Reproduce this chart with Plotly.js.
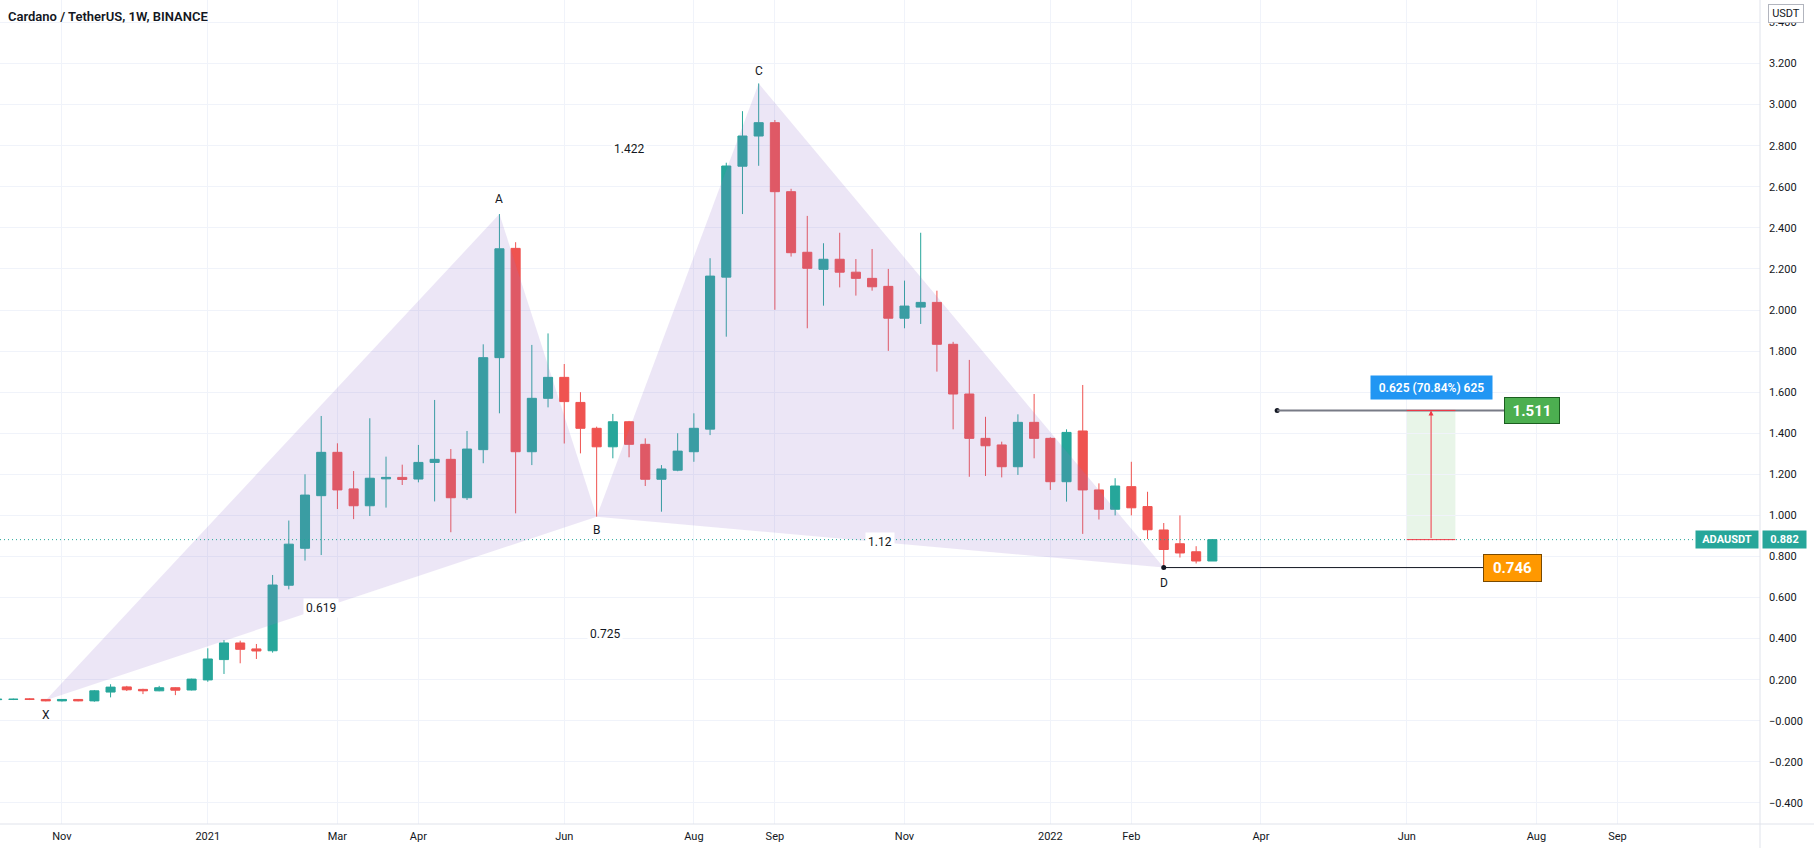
<!DOCTYPE html>
<html>
<head>
<meta charset="utf-8">
<script src="https://cdn.plot.ly/plotly-3.0.1.min.js"></script>
<style>html,body{margin:0;padding:0;background:#fff;}#chart{width:1814px;height:848px;}</style>
</head>
<body>
<div id="chart"></div>
<script>
// ---- data (weekly candles, first week 2020-10-05) ----
const firstWeek = '2020-10-05';
const opens = [0.103,0.104,0.107,0.104,0.097,0.104,0.097,0.140,0.165,0.153,0.146,0.161,0.150,
  0.199,0.298,0.379,0.350,0.341,0.660,0.840,1.096,1.307,1.129,1.047,1.178,1.185,1.177,1.258,1.273,1.086,1.320,1.768,2.300,1.310,1.570,1.672,1.550,1.424,1.334,1.456,1.346,1.176,1.220,1.310,1.420,2.160,2.700,2.847,2.912,2.576,2.281,2.198,2.247,2.184,2.154,2.115,1.960,2.014,2.037,1.833,1.591,1.375,1.343,1.237,1.453,1.375,1.164,1.411,1.124,1.030,1.140,1.043,0.929,0.862,0.823,0.778];
const highs = [0.108,0.108,0.110,0.106,0.106,0.106,0.150,0.178,0.170,0.156,0.170,0.163,0.205,
  0.353,0.393,0.390,0.374,0.710,0.975,1.200,1.484,1.351,1.216,1.473,1.286,1.247,1.343,1.562,1.323,1.411,1.833,2.467,2.330,1.830,1.886,1.737,1.600,1.432,1.494,1.460,1.375,1.245,1.400,1.497,2.252,2.717,2.968,3.103,2.925,2.590,2.458,2.325,2.376,2.248,2.297,2.200,2.143,2.376,2.094,1.845,1.757,1.480,1.359,1.492,1.591,1.380,1.419,1.635,1.156,1.181,1.261,1.115,0.963,1.000,0.850,0.885];
const lows = [0.100,0.101,0.101,0.095,0.094,0.095,0.093,0.114,0.145,0.130,0.144,0.125,0.148,
  0.190,0.228,0.280,0.301,0.332,0.640,0.780,0.807,1.031,0.982,0.997,1.038,1.148,1.161,1.068,0.918,1.075,1.254,1.497,1.010,1.245,1.526,1.350,1.302,0.994,1.278,1.283,1.143,1.018,1.215,1.261,1.391,1.870,2.467,2.702,2.001,2.260,1.911,2.021,2.110,2.070,2.094,1.801,1.911,1.932,1.700,1.419,1.188,1.192,1.185,1.197,1.278,1.124,1.067,0.910,0.980,1.000,1.000,0.885,0.746,0.795,0.766,0.778];
const closes = [0.105,0.105,0.104,0.097,0.104,0.097,0.146,0.164,0.151,0.146,0.161,0.149,0.203,
  0.301,0.379,0.348,0.340,0.661,0.860,1.099,1.307,1.124,1.047,1.181,1.185,1.175,1.258,1.273,1.086,1.323,1.768,2.298,1.310,1.570,1.672,1.554,1.424,1.334,1.456,1.346,1.176,1.226,1.313,1.424,2.165,2.701,2.847,2.912,2.576,2.279,2.203,2.247,2.184,2.154,2.113,1.960,2.019,2.037,1.833,1.591,1.375,1.339,1.237,1.453,1.375,1.164,1.404,1.124,1.030,1.143,1.037,0.930,0.834,0.817,0.778,0.882];

// XABCD harmonic pattern
const patternLabels = ['X','A','B','C','D'];
const patternDates  = ['2020-10-26','2021-05-10','2021-06-21','2021-08-30','2022-02-21'];
const patternPrices = [0.100, 2.467, 0.994, 3.103, 0.746];
const ratioTexts = ['0.619','1.422','0.725','1.12'];   // XB, AC, XD, BD

// x-axis ticks
const xTickVals = ['2020-11-02','2021-01-04','2021-03-01','2021-04-05','2021-06-07','2021-08-02','2021-09-06','2021-11-01','2022-01-03','2022-02-07','2022-04-04','2022-06-06','2022-08-01','2022-09-05'];
const xTickText = ['Nov','2021','Mar','Apr','Jun','Aug','Sep','Nov','2022','Feb','Apr','Jun','Aug','Sep'];
// y-axis ticks
const yTickVals = [-0.4,-0.2,0,0.2,0.4,0.6,0.8,1.0,1.2,1.4,1.6,1.8,2.0,2.2,2.4,2.6,2.8,3.0,3.2,3.4];
const yTickText = ['\u22120.400','\u22120.200','\u22120.000','0.200','0.400','0.600','0.800','1.000','1.200','1.400','1.600','1.800','2.000','2.200','2.400','2.600','2.800','3.000','3.200','3.400'];

// projection / levels
const lastPrice = 0.882;
const targetPrice = 1.511;
const dLevel = 0.746;
const moveText = '0.625 (70.84%) 625';
const targetLineDates = ['2022-04-11','2022-07-18'];
const targetBoxDates = ['2022-06-06','2022-06-27'];
const dLineEndDate = '2022-07-09';

// ---- helpers ----
const DAY = 86400000;
function toStr(ms){ return new Date(ms).toISOString().replace('T',' ').replace('Z',''); }
function ms(s){ return Date.parse(s + 'T00:00:00Z'); }
function mid(a,b){ return toStr((ms(a)+ms(b))/2); }

const dates = opens.map((_, i) => toStr(ms(firstWeek) + i*7*DAY).slice(0,10));

const base = ms('2021-01-04');
const xRange = [toStr(base - 89.77*DAY), toStr(base + 670.6*DAY)];
const yRange = [-0.5024, 3.5092];

const FONT = 'Roboto, "Noto Sans", sans-serif';
const TXT = '#131722';
const GRID = '#f0f3fa';

const traces = [];
// pattern triangles
const iX=0,iA=1,iB=2,iC=3,iD=4;
[[iX,iA,iB],[iB,iC,iD]].forEach(tri => {
  traces.push({
    type:'scatter', mode:'lines', fill:'toself',
    x: tri.map(i=>patternDates[i]).concat([patternDates[tri[0]]]),
    y: tri.map(i=>patternPrices[i]).concat([patternPrices[tri[0]]]),
    line:{width:0, color:'rgba(149,117,205,0)'},
    fillcolor:'rgba(149,117,205,0.18)', hoverinfo:'skip'
  });
});
// candles
traces.push({
  type:'candlestick', x:dates, open:opens, high:highs, low:lows, close:closes,
  increasing:{line:{color:'#26a69a', width:1}, fillcolor:'#26a69a'},
  decreasing:{line:{color:'#ef5350', width:1}, fillcolor:'#ef5350'},
  whiskerwidth:0, hoverinfo:'skip'
});
// dots at start of level lines
traces.push({
  type:'scatter', mode:'markers',
  x:[targetLineDates[0], patternDates[iD]], y:[targetPrice, dLevel],
  marker:{size:5, color:'#131722'}, hoverinfo:'skip'
});

const annotations = [];
// point labels
const labelShift = [-15, 15, -13, 12, -15];
patternLabels.forEach((t,i)=>{
  annotations.push({x:patternDates[i], y:patternPrices[i], xref:'x', yref:'y', text:t, showarrow:false,
    yshift:labelShift[i], font:{family:FONT, size:12, color:TXT}});
});
// ratio labels
const pairs = [[iX,iB],[iA,iC],[iX,iD],[iB,iD]];
pairs.forEach((p,j)=>{
  annotations.push({x:mid(patternDates[p[0]],patternDates[p[1]]), y:(patternPrices[p[0]]+patternPrices[p[1]])/2,
    xref:'x', yref:'y', text:ratioTexts[j], showarrow:false, bgcolor:'#ffffff', borderpad:2,
    font:{family:FONT, size:12, color:TXT}});
});
// move arrow
const boxMid = mid(targetBoxDates[0], targetBoxDates[1]);
annotations.push({x:boxMid, y:targetPrice, ax:boxMid, ay:lastPrice, xref:'x', yref:'y', axref:'x', ayref:'y',
  text:'', showarrow:true, arrowhead:2, arrowsize:1, arrowwidth:1, arrowcolor:'#f23645'});
// move label
annotations.push({x:boxMid, y:targetPrice, xref:'x', yref:'y', text:moveText, showarrow:false, yshift:23,
  width:113, height:15, bgcolor:'#2196f3', borderpad:4, font:{family:FONT, size:12, color:'#ffffff', weight:600}});
// target label
annotations.push({x:targetLineDates[1], y:targetPrice, xref:'x', yref:'y', text:targetPrice.toFixed(3), showarrow:false,
  xanchor:'left', width:46, height:17, bgcolor:'#4caf50', bordercolor:'#1b5e20', borderwidth:1, borderpad:4,
  font:{family:FONT, size:15, color:'#ffffff', weight:700}});
// D level label
annotations.push({x:dLineEndDate, y:dLevel, xref:'x', yref:'y', text:dLevel.toFixed(3), showarrow:false,
  xanchor:'left', width:49, height:18, bgcolor:'#ff9800', bordercolor:'#7a4a00', borderwidth:1, borderpad:4,
  font:{family:FONT, size:15, color:'#ffffff', weight:700}});
// last price labels
annotations.push({x:1759/1760, y:lastPrice, xref:'paper', yref:'y', text:'ADAUSDT', showarrow:false, xanchor:'right',
  width:58, bgcolor:'#26a69a', borderpad:2, font:{family:FONT, size:11, color:'#ffffff', weight:700}});
annotations.push({x:1762/1760, y:lastPrice, xref:'paper', yref:'y', text:lastPrice.toFixed(3), showarrow:false, xanchor:'left',
  width:39, bgcolor:'#26a69a', borderpad:2, font:{family:FONT, size:11, color:'#ffffff', weight:700}});
// currency box
annotations.push({x:1786/1760, y:1-14/824, xref:'paper', yref:'paper', xanchor:'center', yanchor:'middle', text:'USDT', showarrow:false,
  width:30, height:13, bgcolor:'#ffffff', bordercolor:'#b2b5be', borderwidth:1, borderpad:2, font:{family:FONT, size:11, color:TXT}});

const shapes = [
  // last price dotted line
  {type:'line', xref:'paper', yref:'y', x0:0, x1:1, y0:lastPrice, y1:lastPrice, line:{color:'#26a69a', width:1, dash:'1px,3px'}},
  // target box
  {type:'rect', xref:'x', yref:'y', x0:targetBoxDates[0], x1:targetBoxDates[1], y0:lastPrice, y1:targetPrice,
    fillcolor:'rgba(76,175,80,0.13)', line:{width:0}, layer:'below'},
  {type:'line', xref:'x', yref:'y', x0:targetBoxDates[0], x1:targetBoxDates[1], y0:lastPrice, y1:lastPrice, line:{color:'#f23645', width:1}},
  // target line
  {type:'line', xref:'x', yref:'y', x0:targetLineDates[0], x1:targetLineDates[1], y0:targetPrice, y1:targetPrice, line:{color:'#787b86', width:2}},
  {type:'line', xref:'x', yref:'y', x0:targetBoxDates[0], x1:targetBoxDates[1], y0:targetPrice, y1:targetPrice, line:{color:'#f23645', width:1}},
  // D level line
  {type:'line', xref:'x', yref:'y', x0:patternDates[iD], x1:dLineEndDate, y0:dLevel, y1:dLevel, line:{color:'#131722', width:1}},
  // axis borders
  {type:'line', xref:'paper', yref:'paper', x0:1, x1:1, y0:-24/824, y1:1, line:{color:'#e0e3eb', width:1}},
  {type:'line', xref:'paper', yref:'paper', x0:0, x1:1814/1760, y0:0, y1:0, line:{color:'#e0e3eb', width:1}}
];

const layout = {
  width:1814, height:848,
  margin:{l:0, r:54, t:0, b:24},
  paper_bgcolor:'#ffffff', plot_bgcolor:'#ffffff',
  showlegend:false, boxgap:0.2,
  font:{family:FONT, color:TXT},
  title:{text:'Cardano / TetherUS, 1W, BINANCE', x:8/1814, xanchor:'left', y:1-16/848, yanchor:'middle',
    font:{family:FONT, size:13, color:TXT, weight:600}},
  xaxis:{type:'date', range:xRange, tickvals:xTickVals, ticktext:xTickText, showgrid:true, gridcolor:GRID, gridwidth:1,
    zeroline:false, showline:false, ticks:'', tickfont:{family:FONT, size:11, color:TXT}, ticklabelstandoff:4,
    rangeslider:{visible:false}, fixedrange:true},
  yaxis:{side:'right', range:yRange, tickvals:yTickVals, ticktext:yTickText, showgrid:true, gridcolor:GRID, gridwidth:1,
    zeroline:false, showline:false, ticks:'', tickfont:{family:FONT, size:11, color:TXT}, ticklabelstandoff:8, fixedrange:true},
  annotations:annotations, shapes:shapes
};

Plotly.newPlot('chart', traces, layout, {displayModeBar:false, staticPlot:true});
</script>
</body>
</html>
